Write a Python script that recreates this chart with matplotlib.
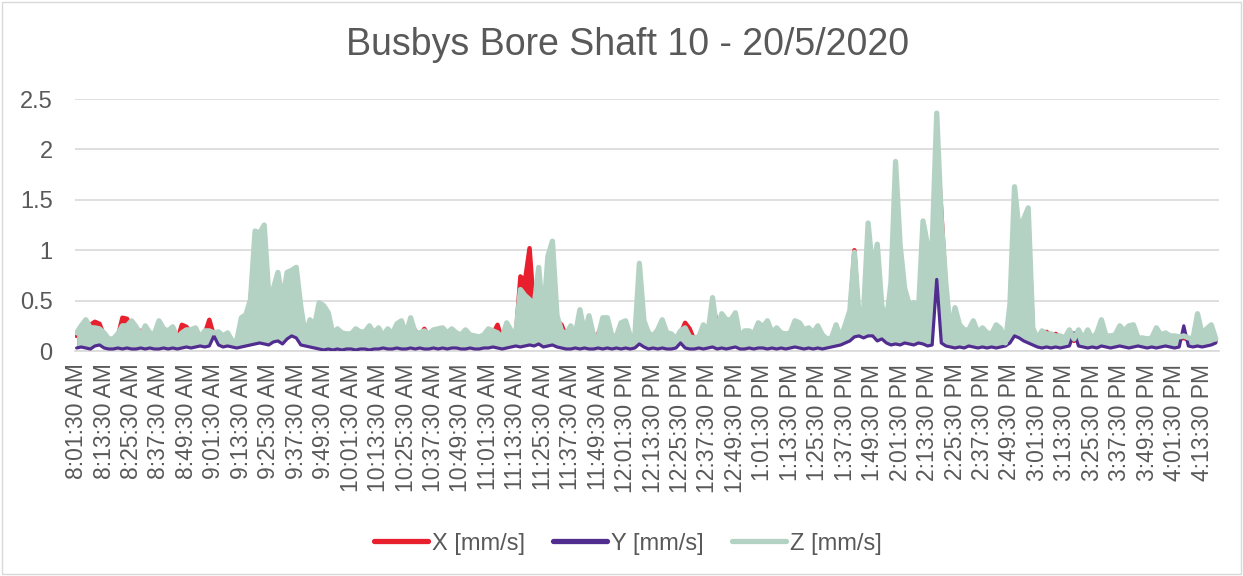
import numpy as np
import matplotlib
matplotlib.use('Agg')
import matplotlib.pyplot as plt
from matplotlib.patches import Rectangle

## data (one sample every 2 minutes from 8:01:30 AM) ##
x_vals = [0.15, 0.20, 0.25, 0.26, 0.29, 0.27, 0.15, 0.10, 0.10, 0.14,
          0.33, 0.32, 0.24, 0.18, 0.20, 0.20, 0.15, 0.14, 0.24, 0.18,
          0.16, 0.20, 0.11, 0.26, 0.24, 0.17, 0.19, 0.11, 0.17, 0.31,
          0.15, 0.15, 0.12, 0.15, 0.08, 0.08, 0.27, 0.30, 0.50, 1.10,
          1.05, 1.15, 0.50, 0.55, 0.70, 0.45, 0.70, 0.72, 0.75, 0.40,
          0.12, 0.26, 0.21, 0.40, 0.38, 0.32, 0.14, 0.18, 0.15, 0.14,
          0.14, 0.18, 0.16, 0.16, 0.21, 0.15, 0.19, 0.12, 0.18, 0.14,
          0.22, 0.25, 0.13, 0.27, 0.20, 0.15, 0.22, 0.14, 0.17, 0.18,
          0.19, 0.15, 0.18, 0.15, 0.13, 0.17, 0.13, 0.12, 0.12, 0.13,
          0.18, 0.17, 0.26, 0.11, 0.23, 0.17, 0.15, 0.74, 0.70, 1.02,
          0.40, 0.70, 0.26, 0.80, 0.95, 0.30, 0.26, 0.14, 0.21, 0.13,
          0.35, 0.15, 0.30, 0.12, 0.17, 0.28, 0.28, 0.12, 0.12, 0.24,
          0.25, 0.12, 0.12, 0.75, 0.25, 0.15, 0.12, 0.18, 0.26, 0.15,
          0.14, 0.10, 0.17, 0.28, 0.22, 0.11, 0.12, 0.22, 0.15, 0.45,
          0.28, 0.31, 0.26, 0.26, 0.32, 0.11, 0.17, 0.17, 0.14, 0.24,
          0.20, 0.25, 0.15, 0.19, 0.15, 0.14, 0.15, 0.25, 0.24, 0.18,
          0.19, 0.15, 0.21, 0.13, 0.10, 0.11, 0.22, 0.11, 0.22, 0.35,
          1.00, 0.30, 0.32, 1.10, 0.70, 0.95, 0.40, 0.25, 0.60, 1.70,
          0.90, 0.52, 0.40, 0.42, 0.35, 1.15, 0.95, 0.95, 2.10, 1.38,
          0.60, 0.15, 0.37, 0.22, 0.18, 0.18, 0.26, 0.15, 0.20, 0.15,
          0.14, 0.22, 0.19, 0.07, 0.40, 1.45, 1.05, 1.15, 1.30, 0.20,
          0.10, 0.17, 0.19, 0.15, 0.17, 0.13, 0.11, 0.18, 0.10, 0.18,
          0.10, 0.18, 0.10, 0.15, 0.26, 0.13, 0.13, 0.14, 0.21, 0.17,
          0.21, 0.22, 0.11, 0.11, 0.10, 0.11, 0.20, 0.14, 0.15, 0.13,
          0.13, 0.12, 0.13, 0.11, 0.10, 0.31, 0.15, 0.19, 0.22, 0.10]

y_vals = [0.03, 0.04, 0.03, 0.02, 0.05, 0.06, 0.03, 0.02, 0.02, 0.03,
          0.02, 0.03, 0.02, 0.02, 0.03, 0.02, 0.03, 0.02, 0.02, 0.03,
          0.02, 0.03, 0.02, 0.03, 0.04, 0.03, 0.04, 0.05, 0.04, 0.05,
          0.15, 0.06, 0.04, 0.05, 0.04, 0.03, 0.04, 0.05, 0.06, 0.07,
          0.08, 0.07, 0.06, 0.09, 0.10, 0.07, 0.12, 0.15, 0.13, 0.06,
          0.05, 0.04, 0.03, 0.02, 0.01, 0.02, 0.01, 0.02, 0.01, 0.02,
          0.02, 0.01, 0.02, 0.02, 0.01, 0.02, 0.02, 0.03, 0.02, 0.02,
          0.03, 0.02, 0.02, 0.03, 0.02, 0.03, 0.02, 0.02, 0.03, 0.02,
          0.03, 0.02, 0.03, 0.03, 0.02, 0.02, 0.03, 0.02, 0.02, 0.03,
          0.03, 0.04, 0.03, 0.02, 0.03, 0.04, 0.05, 0.04, 0.05, 0.06,
          0.05, 0.07, 0.04, 0.05, 0.06, 0.04, 0.03, 0.02, 0.02, 0.03,
          0.02, 0.03, 0.02, 0.02, 0.03, 0.02, 0.03, 0.02, 0.03, 0.02,
          0.03, 0.02, 0.03, 0.07, 0.04, 0.02, 0.03, 0.02, 0.03, 0.02,
          0.02, 0.03, 0.08, 0.03, 0.02, 0.02, 0.03, 0.02, 0.03, 0.04,
          0.02, 0.03, 0.02, 0.03, 0.04, 0.02, 0.02, 0.03, 0.02, 0.03,
          0.03, 0.02, 0.03, 0.02, 0.03, 0.02, 0.03, 0.04, 0.03, 0.02,
          0.03, 0.02, 0.03, 0.02, 0.03, 0.04, 0.05, 0.06, 0.08, 0.10,
          0.14, 0.15, 0.13, 0.15, 0.15, 0.10, 0.12, 0.08, 0.06, 0.07,
          0.06, 0.08, 0.07, 0.06, 0.08, 0.07, 0.05, 0.06, 0.71, 0.08,
          0.05, 0.04, 0.03, 0.04, 0.03, 0.05, 0.04, 0.03, 0.04, 0.03,
          0.04, 0.03, 0.04, 0.05, 0.08, 0.15, 0.13, 0.10, 0.08, 0.06,
          0.04, 0.03, 0.04, 0.03, 0.04, 0.03, 0.04, 0.05, 0.18, 0.05,
          0.04, 0.03, 0.04, 0.03, 0.05, 0.04, 0.03, 0.04, 0.05, 0.04,
          0.03, 0.04, 0.05, 0.04, 0.03, 0.04, 0.03, 0.04, 0.05, 0.04,
          0.03, 0.04, 0.25, 0.05, 0.04, 0.05, 0.04, 0.05, 0.06, 0.08]

z_vals = [0.18, 0.25, 0.31, 0.23, 0.23, 0.22, 0.18, 0.12, 0.12, 0.17,
          0.25, 0.25, 0.30, 0.24, 0.15, 0.25, 0.18, 0.17, 0.30, 0.22,
          0.20, 0.24, 0.13, 0.18, 0.21, 0.21, 0.23, 0.13, 0.20, 0.20,
          0.18, 0.19, 0.15, 0.18, 0.10, 0.10, 0.33, 0.36, 0.51, 1.19,
          1.17, 1.25, 0.55, 0.62, 0.78, 0.50, 0.78, 0.80, 0.83, 0.44,
          0.15, 0.31, 0.25, 0.48, 0.45, 0.38, 0.17, 0.22, 0.18, 0.17,
          0.17, 0.22, 0.19, 0.19, 0.25, 0.18, 0.23, 0.15, 0.22, 0.17,
          0.27, 0.30, 0.16, 0.33, 0.18, 0.18, 0.20, 0.17, 0.21, 0.22,
          0.23, 0.18, 0.22, 0.18, 0.16, 0.21, 0.16, 0.15, 0.14, 0.16,
          0.22, 0.20, 0.18, 0.13, 0.28, 0.20, 0.18, 0.61, 0.55, 0.51,
          0.45, 0.83, 0.31, 0.94, 1.09, 0.35, 0.20, 0.17, 0.25, 0.16,
          0.41, 0.18, 0.35, 0.15, 0.14, 0.33, 0.33, 0.15, 0.15, 0.28,
          0.30, 0.15, 0.14, 0.87, 0.30, 0.18, 0.15, 0.21, 0.31, 0.18,
          0.17, 0.12, 0.20, 0.23, 0.14, 0.13, 0.14, 0.26, 0.18, 0.53,
          0.18, 0.37, 0.31, 0.31, 0.38, 0.13, 0.20, 0.20, 0.17, 0.28,
          0.24, 0.30, 0.18, 0.23, 0.18, 0.17, 0.18, 0.30, 0.28, 0.21,
          0.23, 0.18, 0.25, 0.16, 0.12, 0.13, 0.26, 0.13, 0.26, 0.40,
          0.98, 0.36, 0.38, 1.27, 0.80, 1.06, 0.45, 0.29, 0.68, 1.88,
          1.05, 0.62, 0.46, 0.48, 0.40, 1.29, 1.05, 1.05, 2.36, 1.30,
          0.67, 0.18, 0.43, 0.26, 0.21, 0.21, 0.30, 0.18, 0.23, 0.18,
          0.17, 0.26, 0.22, 0.08, 0.46, 1.63, 1.20, 1.31, 1.42, 0.23,
          0.12, 0.20, 0.17, 0.17, 0.15, 0.15, 0.13, 0.21, 0.12, 0.21,
          0.12, 0.21, 0.12, 0.18, 0.31, 0.15, 0.15, 0.16, 0.25, 0.20,
          0.25, 0.26, 0.13, 0.13, 0.12, 0.13, 0.23, 0.16, 0.18, 0.15,
          0.15, 0.14, 0.15, 0.13, 0.12, 0.37, 0.17, 0.22, 0.26, 0.12]

tick_labels = ['8:01:30 AM', '8:13:30 AM', '8:25:30 AM', '8:37:30 AM', '8:49:30 AM',
               '9:01:30 AM', '9:13:30 AM', '9:25:30 AM', '9:37:30 AM', '9:49:30 AM',
               '10:01:30 AM', '10:13:30 AM', '10:25:30 AM', '10:37:30 AM', '10:49:30 AM',
               '11:01:30 AM', '11:13:30 AM', '11:25:30 AM', '11:37:30 AM', '11:49:30 AM',
               '12:01:30 PM', '12:13:30 PM', '12:25:30 PM', '12:37:30 PM', '12:49:30 PM',
               '1:01:30 PM', '1:13:30 PM', '1:25:30 PM', '1:37:30 PM', '1:49:30 PM',
               '2:01:30 PM', '2:13:30 PM', '2:25:30 PM', '2:37:30 PM', '2:49:30 PM',
               '3:01:30 PM', '3:13:30 PM', '3:25:30 PM', '3:37:30 PM', '3:49:30 PM',
               '4:01:30 PM', '4:13:30 PM']

minutes = np.arange(len(z_vals)) * 2     # sample times, minutes after 8:01:30
tick_pos = np.arange(len(tick_labels)) * 12

plt.rcParams['font.family'] = ['Liberation Sans', 'DejaVu Sans']
grey = '#595959'
c_x, c_y, c_z = '#E8202E', '#512D8F', '#B4D2C4'

fig = plt.figure(figsize=(12.43, 5.76), dpi=100)
ax = fig.add_axes([0.0603, 0.3906, 0.9204, 0.4375])

# the logged signal is so dense that every trace reads as a solid band down to Y
lw = dict(solid_capstyle='round', solid_joinstyle='round')
ax.fill_between(minutes, y_vals, x_vals, color=c_x, linewidth=0, zorder=2)
ax.plot(minutes, x_vals, color=c_x, linewidth=3.2, label='X [mm/s]', zorder=3, **lw)
ax.fill_between(minutes, y_vals, z_vals, color=c_z, linewidth=0, zorder=4)
ax.plot(minutes, y_vals, color=c_y, linewidth=2.3, label='Y [mm/s]', zorder=5, **lw)
ax.plot(minutes, z_vals, color=c_z, linewidth=3.8, label='Z [mm/s]', zorder=6, **lw)

ax.set_xlim(-0.74, 499.4)
ax.set_ylim(0, 2.5)
ax.set_yticks([0, 0.5, 1, 1.5, 2, 2.5])
ax.set_yticklabels(['0', '0.5', '1', '1.5', '2', '2.5'])
ax.set_xticks(tick_pos)
ax.set_xticklabels(tick_labels, rotation=90, ha='center', va='top')
ax.tick_params(axis='x', length=0, pad=9, labelsize=16.5, colors=grey)
ax.tick_params(axis='y', length=0, pad=16, labelsize=17, colors=grey)

ax.grid(axis='y', color='#D9D9D9', linewidth=1.2, zorder=0)
ax.set_axisbelow(True)
for s in ['top', 'right', 'left']:
    ax.spines[s].set_visible(False)
ax.spines['bottom'].set_color('#D9D9D9')
ax.spines['bottom'].set_linewidth(1.2)
ax.spines['bottom'].set_zorder(1)

fig.text(0.505, 0.922, 'Busbys Bore Shaft 10 - 20/5/2020', ha='center', va='center',
         fontsize=27, color=grey)

leg = fig.legend(loc='center', bbox_to_anchor=(0.505, 0.056), ncol=3, frameon=False,
                 fontsize=17, handlelength=2.3, columnspacing=1.2, handletextpad=0.15)
for t in leg.get_texts():
    t.set_color(grey)
for h in leg.get_lines():
    h.set_linewidth(3.8)
    h.set_solid_capstyle('round')

fig.patches.append(Rectangle((0.002, 0.003), 0.996, 0.994, transform=fig.transFigure,
                             fill=False, edgecolor='#D9D9D9', linewidth=1))

plt.savefig('out.png', dpi=100)
